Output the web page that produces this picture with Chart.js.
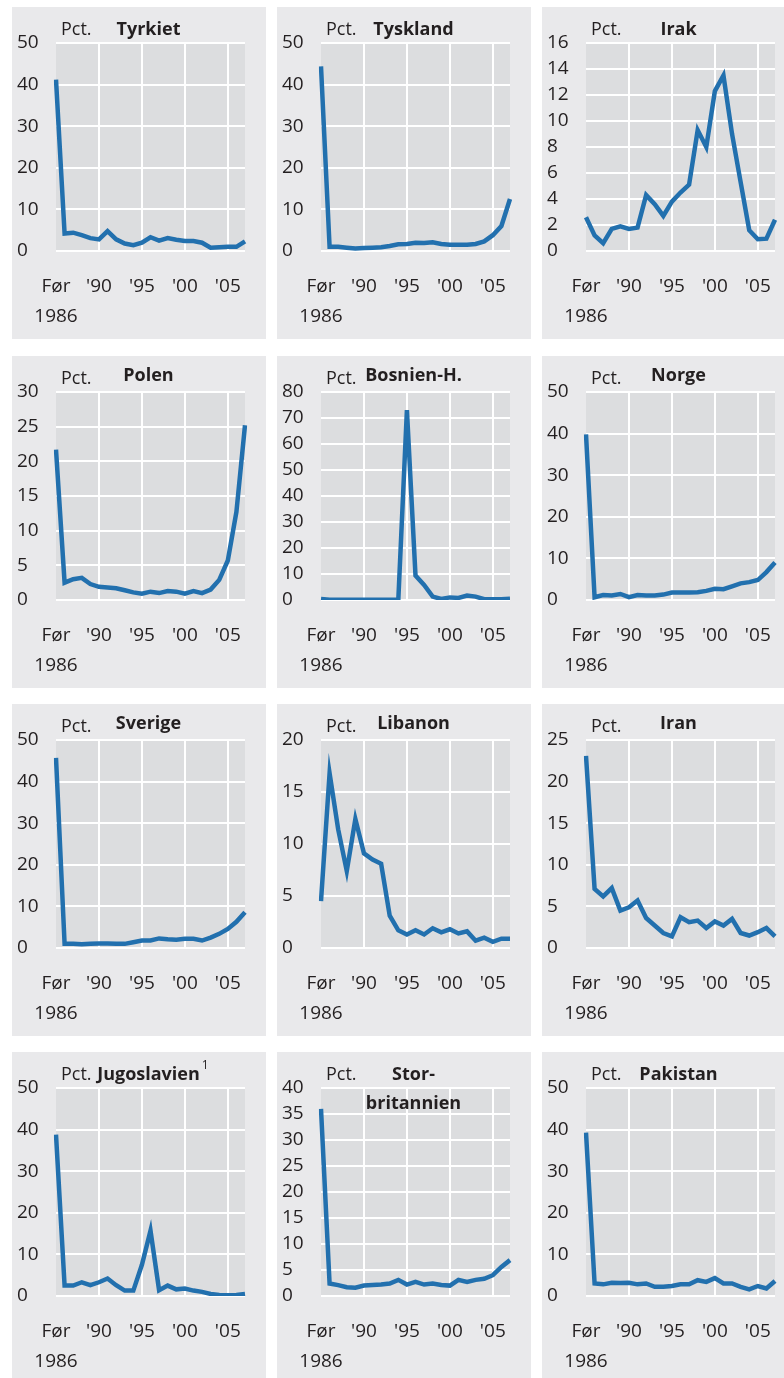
<!DOCTYPE html>
<html>
<head>
<meta charset="utf-8">
<script src="https://cdn.jsdelivr.net/npm/chart.js@4.4.1/dist/chart.umd.min.js"></script>
<style>
  html, body { margin: 0; padding: 0; background: #fff; width: 784px; height: 1378px; overflow: hidden; }
  .panel { position: absolute; width: 254px; height: 332px; background: #e9e9eb; }
  .panel canvas { display: block; }
</style>
</head>
<body>
<script>
// x categories: "Før 1986" then one point per year
const years = ['Før 1986', '1986', '1987', '1988', '1989', '1990', '1991', '1992', '1993', '1994', '1995',
  '1996', '1997', '1998', '1999', '2000', '2001', '2002', '2003', '2004', '2005', '2006', '2007'];
// labels shown under every 5th category
const tickLabels = [['Før', '1986'], "'90", "'95", "'00", "'05"];

// pct. per year
const tyrkiet = [41.2, 4.2, 4.4, 3.8, 3.1, 2.8, 4.8, 2.8, 1.8, 1.4, 2.0, 3.3, 2.5, 3.1, 2.7, 2.4, 2.4, 2.0, 0.8, 0.9, 1.0, 1.0, 2.3];
const tyskland = [44.4, 1.0, 1.0, 0.8, 0.6, 0.7, 0.8, 0.9, 1.2, 1.6, 1.7, 2.0, 1.9, 2.1, 1.7, 1.5, 1.5, 1.5, 1.7, 2.3, 3.8, 6.0, 12.5];
const irak = [2.6, 1.2, 0.6, 1.7, 1.9, 1.7, 1.8, 4.3, 3.6, 2.7, 3.8, 4.5, 5.1, 9.3, 8.0, 12.3, 13.5, 9.0, 5.3, 1.6, 0.9, 0.95, 2.4];
const polen = [21.7, 2.5, 3.0, 3.2, 2.3, 1.9, 1.8, 1.7, 1.4, 1.1, 0.9, 1.2, 1.0, 1.3, 1.2, 0.9, 1.3, 1.0, 1.5, 2.9, 5.7, 12.7, 25.2];
const bosnien = [0.4, 0.1, 0.1, 0.1, 0.1, 0.1, 0.1, 0.1, 0.1, 0.2, 73, 9.4, 5.8, 1.3, 0.4, 1.0, 0.8, 1.7, 1.3, 0.3, 0.3, 0.3, 0.5];
const norge = [39.8, 0.65, 1.2, 1.1, 1.45, 0.7, 1.2, 1.1, 1.1, 1.3, 1.8, 1.8, 1.8, 1.85, 2.2, 2.7, 2.6, 3.3, 4.0, 4.3, 4.8, 6.7, 9.0];
const sverige = [45.7, 1.0, 1.0, 0.9, 1.0, 1.1, 1.1, 1.0, 1.0, 1.4, 1.8, 1.8, 2.3, 2.1, 2.0, 2.2, 2.2, 1.8, 2.5, 3.4, 4.6, 6.3, 8.6];
const libanon = [4.5, 16.8, 11.4, 7.4, 12.4, 9.1, 8.5, 8.1, 3.1, 1.7, 1.3, 1.7, 1.3, 1.9, 1.5, 1.8, 1.4, 1.6, 0.7, 1.0, 0.6, 0.9, 0.9];
const iran = [23.1, 7.1, 6.2, 7.2, 4.5, 4.9, 5.7, 3.6, 2.7, 1.8, 1.4, 3.7, 3.1, 3.3, 2.4, 3.2, 2.7, 3.5, 1.8, 1.5, 1.9, 2.4, 1.4];
const jugoslavien = [38.8, 2.5, 2.5, 3.3, 2.6, 3.3, 4.2, 2.6, 1.3, 1.3, 7.5, 15.7, 1.4, 2.5, 1.6, 1.8, 1.3, 1.0, 0.5, 0.25, 0.2, 0.25, 0.5];
const storbritannien = [36.0, 2.4, 2.1, 1.7, 1.6, 2.0, 2.1, 2.2, 2.4, 3.1, 2.2, 2.7, 2.2, 2.4, 2.1, 2.0, 3.1, 2.7, 3.1, 3.3, 4.0, 5.6, 6.9];
const pakistan = [39.3, 3.0, 2.8, 3.2, 3.1, 3.2, 2.8, 3.0, 2.2, 2.2, 2.4, 2.8, 2.8, 3.8, 3.4, 4.3, 3.0, 3.0, 2.2, 1.6, 2.4, 1.8, 3.6];

const panels = [
  { title: ['Tyrkiet'], values: tyrkiet, max: 50, step: 10 },
  { title: ['Tyskland'], values: tyskland, max: 50, step: 10 },
  { title: ['Irak'], values: irak, max: 16, step: 2 },
  { title: ['Polen'], values: polen, max: 30, step: 5 },
  { title: ['Bosnien-H.'], values: bosnien, max: 80, step: 10 },
  { title: ['Norge'], values: norge, max: 50, step: 10 },
  { title: ['Sverige'], values: sverige, max: 50, step: 10 },
  { title: ['Libanon'], values: libanon, max: 20, step: 5 },
  { title: ['Iran'], values: iran, max: 25, step: 5 },
  { title: ['Jugoslavien'], note: '1', values: jugoslavien, max: 50, step: 10 },
  { title: ['Stor-', 'britannien'], values: storbritannien, max: 40, step: 5 },
  { title: ['Pakistan'], values: pakistan, max: 50, step: 10 }
];

const colLeft = [12, 277, 542];
const rowTop = [7, 356, 704, 1052];
const fam = '"Open Sans", "Noto Sans", sans-serif';
const ink = '#231f20';
const blue = '#2270ae';

// grey plot area behind the grid
const plotBg = {
  id: 'plotBg',
  beforeDraw(chart) {
    const { ctx, chartArea: a } = chart;
    ctx.save();
    ctx.fillStyle = '#dcdddf';
    ctx.fillRect(a.left, a.top, a.right - a.left, a.bottom - a.top);
    ctx.restore();
  }
};

// "Pct." + bold country name above the plot
const panelTitle = {
  id: 'panelTitle',
  afterDraw(chart, args, opts) {
    const { ctx, chartArea: a } = chart;
    const base = a.top - 8;
    ctx.save();
    ctx.fillStyle = ink;
    ctx.textBaseline = 'alphabetic';
    ctx.textAlign = 'left';
    ctx.font = '18px ' + fam;
    ctx.fillText('Pct.', a.left + 5, base);
    ctx.font = 'bold 18px ' + fam;
    ctx.textAlign = 'center';
    const cx = (a.left + a.right) / 2 - 2;
    opts.lines.forEach((t, k) => ctx.fillText(t, cx, base - opts.dy + k * 29));
    if (opts.note) {
      const w = ctx.measureText(opts.lines[0]).width;
      ctx.font = '12px ' + fam;
      ctx.textAlign = 'left';
      ctx.fillText(opts.note, cx + w / 2 + 2, base - 11);
    }
    ctx.restore();
  }
};

panels.forEach((p, n) => {
  const row = Math.floor(n / 3), col = n % 3;
  const div = document.createElement('div');
  div.className = 'panel';
  div.style.left = colLeft[col] + 'px';
  div.style.top = rowTop[row] + 'px';
  const cv = document.createElement('canvas');
  cv.width = 254; cv.height = 332;
  cv.style.width = '254px'; cv.style.height = '332px';
  div.appendChild(cv);
  document.body.appendChild(div);

  new Chart(cv, {
    type: 'line',
    data: {
      labels: years,
      datasets: [{
        data: p.values,
        borderColor: blue,
        borderWidth: 4.5,
        pointRadius: 0,
        tension: 0,
        fill: false
      }]
    },
    options: {
      responsive: false,
      animation: false,
      devicePixelRatio: 1,
      layout: { padding: { left: 5, right: 14, top: 36, bottom: 0 } },
      plugins: {
        legend: { display: false },
        tooltip: { enabled: false },
        panelTitle: { lines: p.title, note: p.note, dy: (row === 1 || row === 2) ? 3 : 0 }
      },
      scales: {
        x: {
          border: { display: false },
          grid: {
            drawTicks: false,
            lineWidth: 2,
            color: c => (c.index > 0 && c.index % 5 === 0) ? '#ffffff' : 'rgba(0,0,0,0)'
          },
          ticks: {
            autoSkip: false,
            maxRotation: 0,
            padding: 21,
            color: ink,
            font: { family: fam, size: 19, lineHeight: 1.55 },
            callback: (v, i) => i % 5 === 0 ? tickLabels[i / 5] : ''
          },
          afterFit: s => { s.height = 88; }
        },
        y: {
          min: 0,
          max: p.max,
          border: { display: false },
          grid: { drawTicks: false, lineWidth: 2, color: '#ffffff' },
          ticks: {
            stepSize: p.step,
            crossAlign: 'far',
            color: ink,
            font: { family: fam, size: 19 }
          },
          afterFit: s => { s.width = 39; }
        }
      }
    },
    plugins: [plotBg, panelTitle]
  });
});
</script>
</body>
</html>
